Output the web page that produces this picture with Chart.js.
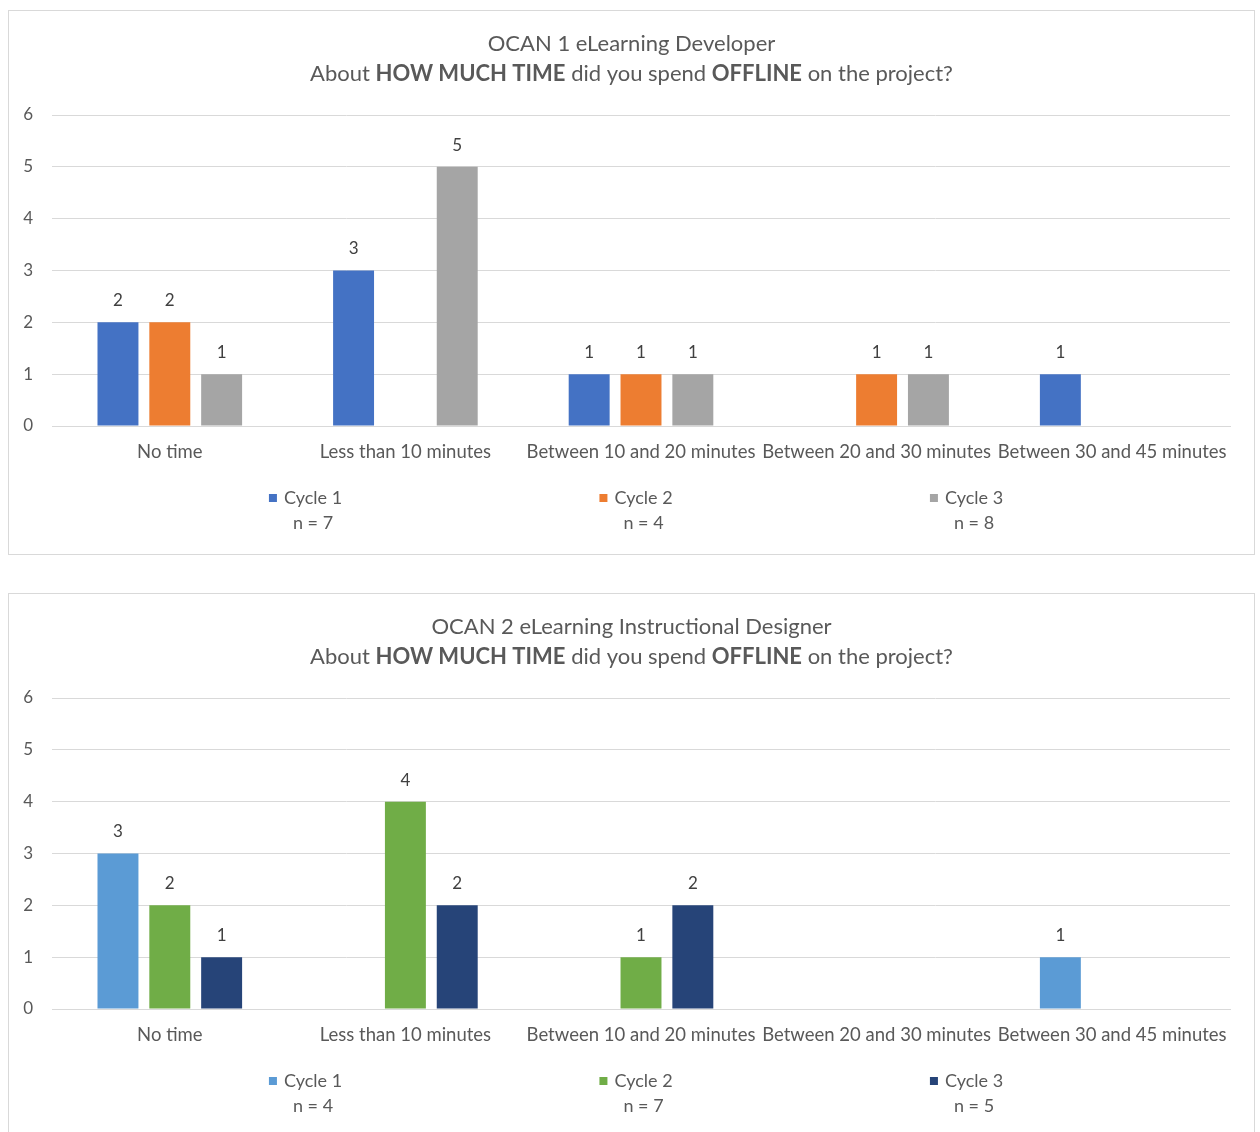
<!DOCTYPE html>
<html>
<head>
<meta charset="utf-8">
<script src="https://cdn.jsdelivr.net/npm/chart.js@4/dist/chart.umd.min.js"></script>
<style>
  body { margin: 0; background: #fff; }
  .panel { position: absolute; left: 8px; width: 1245px; height: 543px; border: 1px solid #d9d9d9; background: #fff; }
  #p1 { top: 10px; }
  #p2 { top: 593px; }
  canvas { display: block; }
</style>
</head>
<body>
<div class="panel" id="p1"><canvas id="c1" width="1245" height="543"></canvas></div>
<div class="panel" id="p2"><canvas id="c2" width="1245" height="543"></canvas></div>
<script>
// Response categories and y-axis ticks
const categories = ["No time", "Less than 10 minutes", "Between 10 and 20 minutes", "Between 20 and 30 minutes", "Between 30 and 45 minutes"];
const seriesNames = ["Cycle 1", "Cycle 2", "Cycle 3"];
const yTicks = [0, 1, 2, 3, 4, 5, 6];

// OCAN 1 eLearning Developer
const devTitle = "OCAN 1 eLearning Developer";
const devCycle1 = [2, 3, 1, 0, 1];
const devCycle2 = [2, 0, 1, 1, 0];
const devCycle3 = [1, 5, 1, 1, 0];
const devN = [7, 4, 8];

// OCAN 2 eLearning Instructional Designer
const idTitle = "OCAN 2 eLearning Instructional Designer";
const idCycle1 = [3, 0, 0, 0, 1];
const idCycle2 = [2, 4, 1, 0, 0];
const idCycle3 = [1, 2, 2, 0, 0];
const idN = [4, 7, 5];

// Question line, with the emphasised words
const question = [["About ", false], ["HOW MUCH TIME", true], [" did you spend ", false], ["OFFLINE", true], [" on the project?", false]];

const FONT = 'Lato, "Open Sans", sans-serif';
const TEXT = '#595959';
const TITLE_SIZE = 22;

const titlePlugin = {
  id: 'twoLineTitle',
  afterDraw(chart, args, opts) {
    const ctx = chart.ctx;
    const cx = chart.width / 2;
    ctx.save();
    ctx.fillStyle = TEXT;
    ctx.textBaseline = 'middle';
    ctx.textAlign = 'center';
    ctx.font = TITLE_SIZE + 'px ' + FONT;
    ctx.fillText(opts.text, cx, 33);
    // second line: mixed weights
    let total = 0;
    for (const [s, b] of question) {
      ctx.font = (b ? 'bold ' : '') + TITLE_SIZE + 'px ' + FONT;
      total += ctx.measureText(s).width;
    }
    let x = cx - total / 2;
    ctx.textAlign = 'left';
    for (const [s, b] of question) {
      ctx.font = (b ? 'bold ' : '') + TITLE_SIZE + 'px ' + FONT;
      ctx.fillText(s, x, 63);
      x += ctx.measureText(s).width;
    }
    ctx.restore();
  }
};

const valueLabels = {
  id: 'valueLabels',
  afterDatasetsDraw(chart) {
    const ctx = chart.ctx;
    ctx.save();
    ctx.fillStyle = '#404040';
    ctx.font = '17px ' + FONT;
    ctx.textAlign = 'center';
    ctx.textBaseline = 'bottom';
    chart.data.datasets.forEach((ds, i) => {
      chart.getDatasetMeta(i).data.forEach((bar, j) => {
        const v = ds.data[j];
        if (v > 0) ctx.fillText(String(v), bar.x, bar.y - 13);
      });
    });
    ctx.restore();
  }
};

const legendPlugin = {
  id: 'nLegend',
  afterDraw(chart, args, opts) {
    const ctx = chart.ctx;
    ctx.save();
    ctx.font = '18px ' + FONT;
    ctx.textBaseline = 'middle';
    const centre = 627, step = 330.5;
    chart.data.datasets.forEach((ds, i) => {
      const label = ds.label;
      const tw = ctx.measureText(label).width;
      const w = 8 + 7 + tw;
      const left = centre + (i - 1) * step - w / 2;
      ctx.fillStyle = ds.backgroundColor;
      ctx.fillRect(left, 487 - 4, 8, 8);
      ctx.fillStyle = TEXT;
      ctx.textAlign = 'left';
      ctx.fillText(label, left + 15, 487);
      ctx.textAlign = 'center';
      ctx.fillText('n = ' + opts.n[i], left + 15 + tw / 2, 512);
    });
    ctx.restore();
  }
};

function makeChart(id, title, series, colors, n) {
  return new Chart(document.getElementById(id), {
    type: 'bar',
    data: {
      labels: categories,
      datasets: series.map((d, i) => ({
        label: seriesNames[i],
        data: d,
        backgroundColor: colors[i],
        categoryPercentage: 0.66,
        barPercentage: 0.79
      }))
    },
    options: {
      responsive: false,
      animation: false,
      layout: { padding: { top: 104, right: 24, bottom: 88, left: 0 } },
      plugins: {
        legend: { display: false },
        title: { display: false },
        tooltip: { enabled: false },
        twoLineTitle: { text: title },
        nLegend: { n: n }
      },
      scales: {
        x: {
          grid: { display: false, drawTicks: false },
          border: { display: true, color: '#d9d9d9' },
          ticks: { color: TEXT, font: { family: FONT, size: 18.5 }, padding: 15, maxRotation: 0, minRotation: 0, autoSkip: false },
          afterFit(scale) { scale.height = 40; }
        },
        y: {
          min: yTicks[0],
          max: yTicks[yTicks.length - 1],
          ticks: { stepSize: 1, color: TEXT, font: { family: FONT, size: 17 }, padding: 19 },
          grid: { color: '#d9d9d9', drawTicks: false },
          border: { display: false },
          afterFit(scale) { scale.width = 43; }
        }
      }
    },
    plugins: [titlePlugin, valueLabels, legendPlugin]
  });
}

makeChart('c1', devTitle, [devCycle1, devCycle2, devCycle3], ['#4472C4', '#ED7D31', '#A5A5A5'], devN);
makeChart('c2', idTitle, [idCycle1, idCycle2, idCycle3], ['#5B9BD5', '#70AD47', '#264478'], idN);
</script>
</body>
</html>
